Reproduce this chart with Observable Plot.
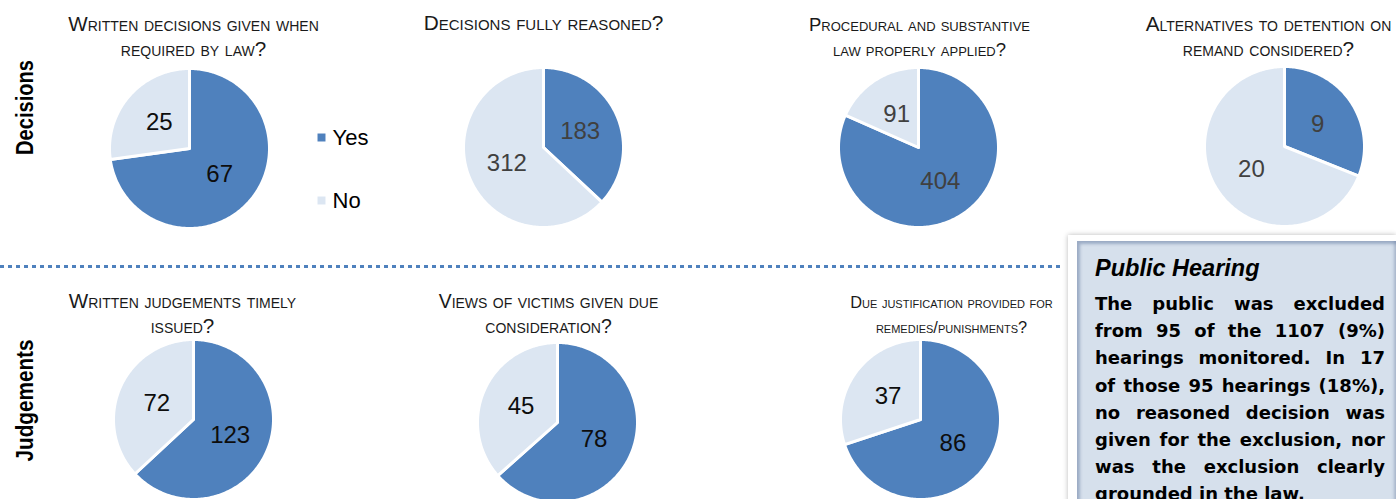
<!DOCTYPE html>
<html>
<head>
<meta charset="utf-8">
<script src="https://cdn.jsdelivr.net/npm/d3@7"></script>
<script src="https://cdn.jsdelivr.net/npm/@observablehq/plot@0.6"></script>
<style>
  html, body { margin: 0; padding: 0; background: #fff; overflow: hidden; }
  #wrap { position: relative; width: 1396px; height: 499px; overflow: hidden; }
  #chart { position: absolute; left: 0; top: 0; }
  #divider { position: absolute; left: 0; top: 265px; width: 1062px; height: 3px;
    background: repeating-linear-gradient(to right, #4F81BD 0 4px, transparent 4px 8px); }
  .box { position: absolute; left: 1068px; top: 235px; width: 328px; height: 290px;
    background: #fff; box-shadow: 0 0 5px rgba(0,0,0,0.28); box-sizing: border-box; padding: 6px 0 0 9px; }
  .inner { background: #D6E0EC; height: 100%; box-sizing: border-box; padding: 13px 11px 0 18px;
    box-shadow: inset 5px 5px 3px -2px rgba(110,130,165,0.55), inset -4px 0 3px -2px rgba(110,130,165,0.45); }
  .btitle { font: italic bold 23.5px "Liberation Sans", Arial, sans-serif; line-height: 28px; color: #000; white-space: nowrap; }
  .bbody { margin-top: 8px; font: bold 18px "DejaVu Sans", Verdana, sans-serif; line-height: 27.2px; color: #000; }
  .bbody div { text-align: justify; text-align-last: justify; white-space: normal; }
  .bbody div.last { text-align: left; text-align-last: left; }
</style>
</head>
<body>
<div id="wrap">
  <div id="chart"></div>
  <div id="divider"></div>
  <div class="box"><div class="inner"><div class="btitle" id="btitle"></div><div class="bbody" id="bbody"></div></div></div>
</div>
<script>
// ---- data ----
const titles = [
  "Written decisions given when\nrequired by law?",
  "Decisions fully reasoned?",
  "Procedural and substantive\nlaw properly applied?",
  "Alternatives to detention on\nremand considered?",
  "Written judgements timely\nissued?",
  "Views of victims given due\nconsideration?",
  "Due justification provided for\nremedies/punishments?"
];
const yesCounts = [67, 183, 404, 9, 123, 78, 86];
const noCounts = [25, 312, 91, 20, 72, 45, 37];
const answers = ["Yes", "No"];
const rowLabels = ["Decisions", "Judgements"];
const boxTitle = "Public Hearing";
const boxLines = [
  "The public was excluded",
  "from 95 of the 1107 (9%)",
  "hearings monitored. In 17",
  "of those 95 hearings (18%),",
  "no reasoned decision was",
  "given for the exclusion, nor",
  "was the exclusion clearly",
  "grounded in the law."
];

// ---- layout & style ----
const W = 1396, H = 499;
const colors = ["#4F81BD", "#DCE6F2"];
const centers = [[189,148],[543,147],[918,147],[1284,146],[193,419],[557,422],[920,419]];
const R = 80;
const titleX = [193, 543, 919, 1268, 182, 548, 951];
const titleBaseline = [30, 29, 30, 30, 307, 307, 307];
const titleSizes = [20.6, 20.8, 18.5, 20.7, 20.6, 19.4, 16.4];
const titleLineGap = 25;
const grayLabels = [false, true, true, true, false, false, false];
const rowLabelPos = [[25, 107], [25, 400]];
const rowLabelLen = [95, 122];
const legendX = 321, legendY = [137, 200];

// ---- build slices ----
const pie = d3.pie().sort(null).value(d => d.value).startAngle(0).endAngle(2 * Math.PI);
const slicePts = [];
const labels = [];
titles.forEach((t, i) => {
  const arcs = pie(answers.map((a, k) => ({answer: a, value: k === 0 ? yesCounts[i] : noCounts[i]})));
  const [cx, cy] = centers[i];
  arcs.forEach(a => {
    const key = i + "-" + a.data.answer;
    slicePts.push({key, answer: a.data.answer, x: cx, y: cy});
    const n = Math.max(2, Math.ceil((a.endAngle - a.startAngle) / (Math.PI / 180)));
    for (let s = 0; s <= n; s++) {
      const ang = a.startAngle + (a.endAngle - a.startAngle) * s / n;
      slicePts.push({key, answer: a.data.answer, x: cx + R * Math.sin(ang), y: cy - R * Math.cos(ang)});
    }
    const mid = (a.startAngle + a.endAngle) / 2;
    labels.push({text: String(a.data.value), gray: grayLabels[i],
      x: cx + 0.5 * R * Math.sin(mid), y: cy - 0.5 * R * Math.cos(mid)});
  });
});

const titleLines = [];
titles.forEach((t, i) => {
  t.split("\n").forEach((line, k) => {
    titleLines.push({text: line, x: titleX[i], y: titleBaseline[i] + k * titleLineGap, size: titleSizes[i]});
  });
});

const plot = Plot.plot({
  width: W, height: H, margin: 0,
  x: {type: "identity", axis: null},
  y: {type: "identity", axis: null},
  color: {domain: answers, range: colors},
  style: {background: "transparent", overflow: "visible"},
  marks: [
    Plot.line(slicePts, {x: "x", y: "y", z: "key", fill: "answer", stroke: "#fff",
      strokeWidth: 3, strokeLinejoin: "round", curve: "linear-closed"}),
    Plot.text(labels.filter(d => !d.gray), {x: "x", y: "y", text: "text", fill: "#0d0d0d",
      fontSize: 24, fontFamily: "Liberation Sans, Arial, sans-serif", lineAnchor: "middle"}),
    Plot.text(labels.filter(d => d.gray), {x: "x", y: "y", text: "text", fill: "#404040",
      fontSize: 24, fontFamily: "Liberation Sans, Arial, sans-serif", lineAnchor: "middle"}),
    Plot.text(titleLines, {x: "x", y: "y", text: "text", fill: "#1a1a1a", fontSize: "size",
      fontVariant: "small-caps", lineAnchor: "bottom",
      fontFamily: "Liberation Sans, Arial, sans-serif"}),
    Plot.text(rowLabels, {x: (d, i) => rowLabelPos[i][0], y: (d, i) => rowLabelPos[i][1], text: d => d,
      rotate: -90, fontSize: 24, fontWeight: "bold", fill: "#000", lineAnchor: "middle",
      fontFamily: "Liberation Sans, Arial, sans-serif"}),
    Plot.dot(answers, {x: () => legendX, y: (d, i) => legendY[i], fill: d => d, symbol: "square", r: 4.5}),
    Plot.text(answers, {x: () => legendX + 11, y: (d, i) => legendY[i], text: d => d, textAnchor: "start",
      fontSize: 22, fill: "#000", lineAnchor: "middle", fontFamily: "Liberation Sans, Arial, sans-serif"})
  ]
});
document.getElementById("chart").appendChild(plot);

// condense the row labels to the narrow width of the original face
plot.querySelectorAll("text").forEach(el => {
  const k = rowLabels.indexOf(el.textContent);
  if (k >= 0) {
    el.setAttribute("textLength", rowLabelLen[k]);
    el.setAttribute("lengthAdjust", "spacingAndGlyphs");
  }
});

document.getElementById("btitle").textContent = boxTitle;
const body = document.getElementById("bbody");
boxLines.forEach((l, i) => {
  const d = document.createElement("div");
  d.textContent = l;
  if (i === boxLines.length - 1) d.className = "last";
  body.appendChild(d);
});
</script>
</body>
</html>
